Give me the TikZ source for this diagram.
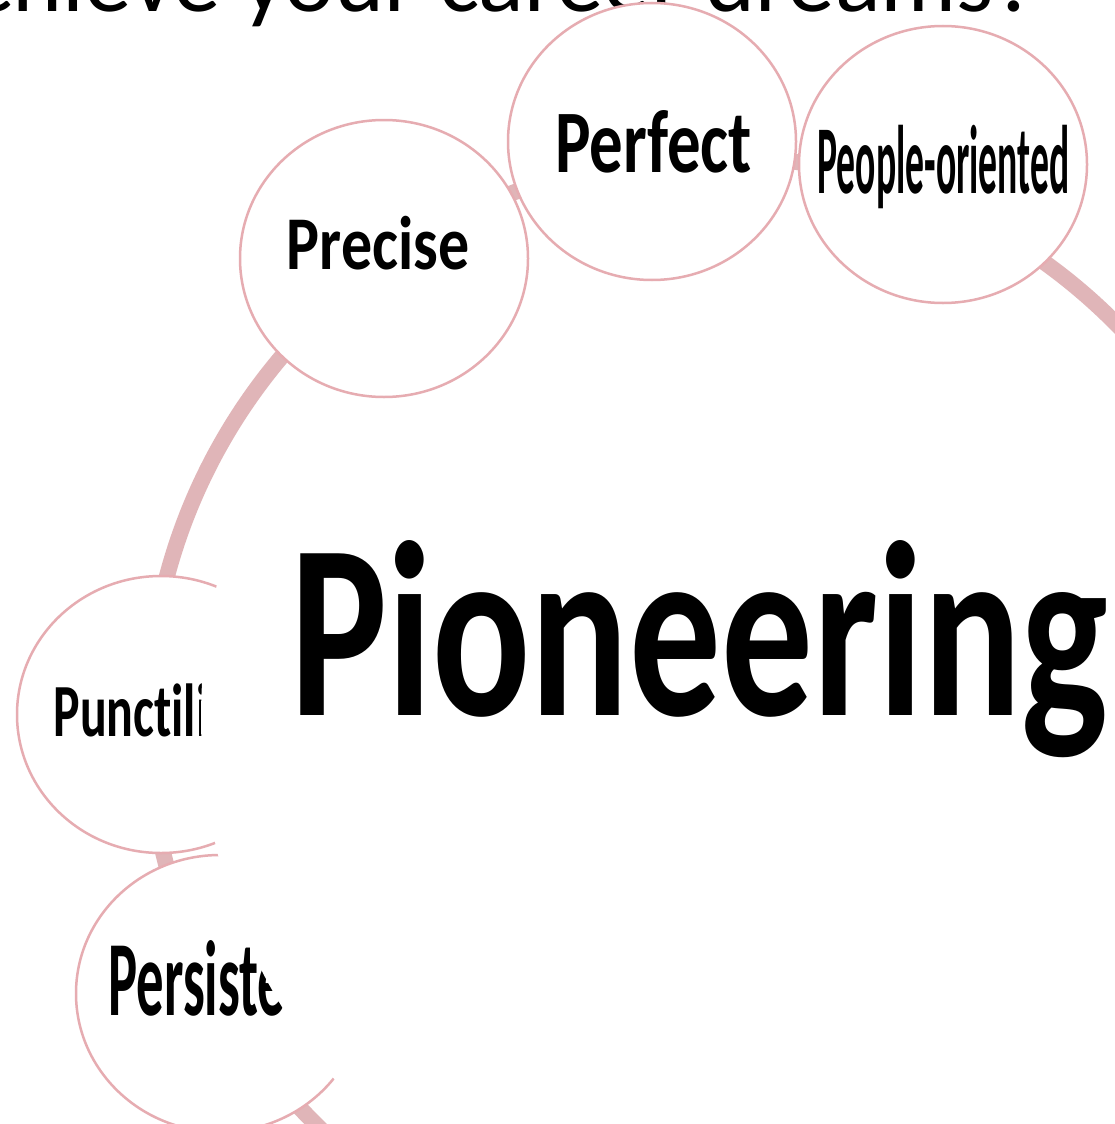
\documentclass[tikz,border=0pt]{standalone}
\usepackage{fontspec}
\setmainfont[Ligatures={NoCommon}]{Carlito}
\usetikzlibrary{shapes.geometric,calc}
\definecolor{ringpink}{RGB}{224,181,184}
\definecolor{edgepink}{RGB}{230,172,177}
\newlength\fitw
\newlength\fith
\newcommand\fitlbl[4]{\settowidth\fitw{#1}\settoheight\fith{#1}\pgfmathsetmacro\fitsx{#3/\fitw}\pgfmathsetmacro\fitsy{#4/\fith}\scalebox{\fitsx}[\fitsy]{#2}}
\newcommand\fitwid[3]{\settowidth\fitw{#1}\pgfmathsetmacro\fitsx{#3/\fitw}\scalebox{\fitsx}{#2}}
\tikzset{
  ring/.style={draw=ringpink, line width=16pt},
  sat/.style={ellipse, draw=edgepink, line width=2.5pt, fill=white,
    minimum width=288pt, minimum height=277pt, inner sep=0pt},
  lbl/.style={inner sep=0pt, font=\fontsize{50}{60}\selectfont\bfseries, text=black},
  titletext/.style={inner sep=0pt, font=\fontsize{50}{60}\selectfont, text=black},
  cover/.style={fill=white}
}
\newcommand\lbl[7]{%
  \node[lbl, anchor=base west] (#1) at (#2,#3) {\fitlbl{#4}{#5}{#6}{#7}};}
\begin{document}
\begin{tikzpicture}[x=1pt,y=-1pt]
\useasboundingbox[fill=white] (0,0) rectangle (1115,1124);
% title (cut by the top edge)
\node[titletext, anchor=base east] (title) at (1038,12)
  {\fitwid{hieve your career dreams?}{achieve your career dreams?}{1025}};
% ring
\coordinate (ringc) at (714,722);
\draw[ring] (ringc) circle[radius=566];
% satellites partly hidden by the centre
\node[sat] (punc) at (161,714.5) {};
\lbl{tpunc}{53.3}{736}{Punctil}{Punctilious}{142.7}{52.7}
\node[sat] (pers) at (220,993.5) {};
\lbl{tpers}{108.3}{1015}{Persist}{Persistent}{150}{75}
% white centre
\coordinate (core) at (758,717.5);
\begin{scope}
  \clip (0,450) rectangle (1115,1124);
  \fill[cover] (core) circle[radius=557];
\end{scope}
% upper satellites
\node[sat] (prec) at (384,258.5) {};
\lbl{tprec}{286.7}{269.3}{Precise}{Precise}{182.6}{53.3}
\node[sat] (perf) at (652,141.5) {};
\lbl{tperf}{555}{172}{Perfect}{Perfect}{196.7}{62}
\node[sat] (peop) at (943,164.5) {};
\lbl{tpeop}{817.3}{193.3}{People-oriented}{People-oriented}{252}{68.3}
% central word
\lbl{tpion}{290}{715}{Pioneering}{Pioneering}{818}{175}
\end{tikzpicture}
\end{document}
